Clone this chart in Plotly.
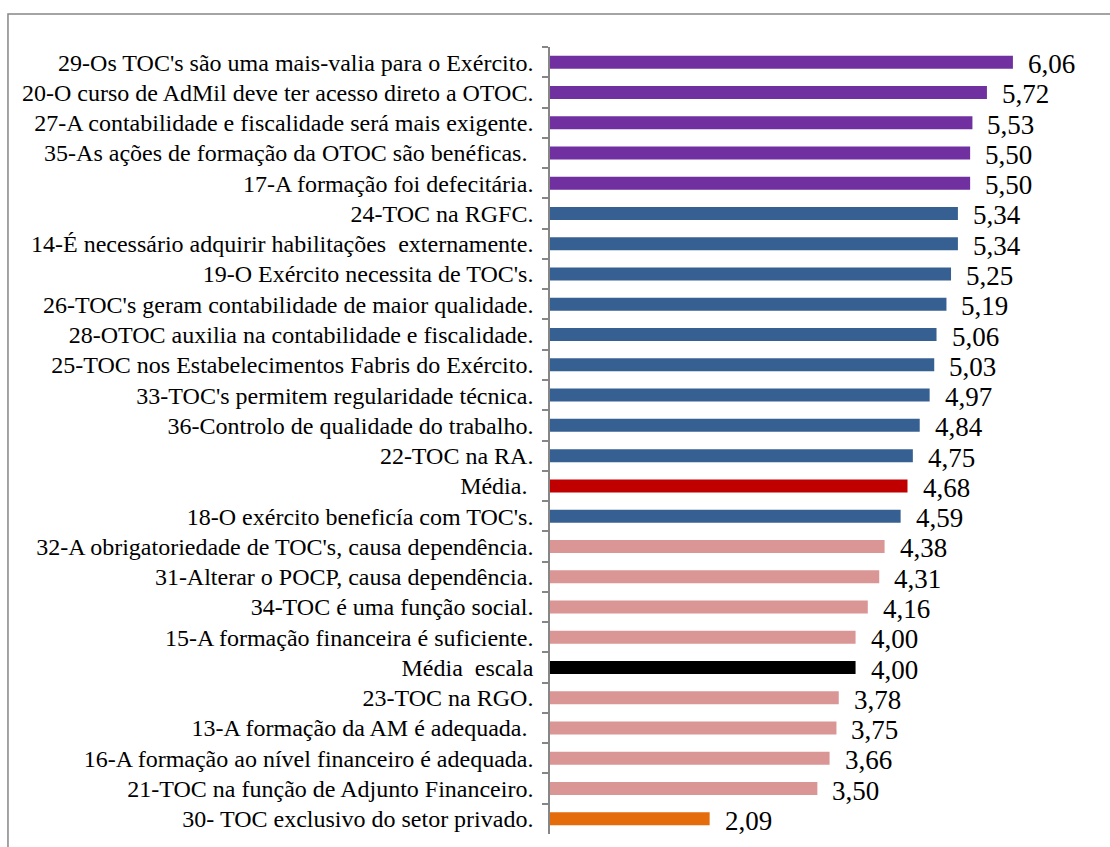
import plotly.graph_objects as go

# Itens do questionário (de cima para baixo) e respetivas médias
categorias = [
    "29-Os TOC's são uma mais-valia para o Exército.",
    "20-O curso de AdMil deve ter acesso direto a OTOC.",
    "27-A contabilidade e fiscalidade será mais exigente.",
    "35-As ações de formação da OTOC são benéficas.\u00a0",
    "17-A formação foi defecitária.",
    "24-TOC na RGFC.",
    "14-É necessário adquirir habilitações\u00a0 externamente.",
    "19-O Exército necessita de TOC's.",
    "26-TOC's geram contabilidade de maior qualidade.",
    "28-OTOC auxilia na contabilidade e fiscalidade.",
    "25-TOC nos Estabelecimentos Fabris do Exército.",
    "33-TOC's permitem regularidade técnica.",
    "36-Controlo de qualidade do trabalho.",
    "22-TOC na RA.",
    "Média.\u00a0",
    "18-O exército beneficía com TOC's.",
    "32-A obrigatoriedade de TOC's, causa dependência.",
    "31-Alterar o POCP, causa dependência.",
    "34-TOC é uma função social.",
    "15-A formação financeira é suficiente.",
    "Média\u00a0 escala",
    "23-TOC na RGO.",
    "13-A formação da AM é adequada.\u00a0",
    "16-A formação ao nível financeiro é adequada.",
    "21-TOC na função de Adjunto Financeiro.",
    "30- TOC exclusivo do setor privado.",
]

medias = [6.06, 5.72, 5.53, 5.50, 5.50, 5.34, 5.34, 5.25, 5.19, 5.06, 5.03,
          4.97, 4.84, 4.75, 4.68, 4.59, 4.38, 4.31, 4.16, 4.00, 4.00, 3.78,
          3.75, 3.66, 3.50, 2.09]

grupos = ["topo"] * 5 + ["acima"] * 9 + ["media"] + ["acima"] + ["abaixo"] * 4 \
    + ["escala"] + ["abaixo"] * 4 + ["minimo"]

cores_grupo = {
    "topo": "#7030A0",
    "acima": "#376092",
    "media": "#C00000",
    "abaixo": "#D99694",
    "escala": "#000000",
    "minimo": "#E46C0A",
}
cores = [cores_grupo[g] for g in grupos]

fonte = "Liberation Serif"

fig = go.Figure(
    go.Bar(
        x=medias,
        y=categorias,
        orientation="h",
        marker=dict(color=cores, line=dict(width=0)),
        hoverinfo="x+y",
    )
)

# Rótulos de valor com vírgula decimal
for cat, v in zip(categorias, medias):
    fig.add_annotation(
        x=v, y=cat,
        text=f"{v:.2f}".replace(".", ","),
        showarrow=False,
        xanchor="left",
        yanchor="middle",
        xshift=13,
        yshift=-2,
        font=dict(family=fonte, size=27, color="black"),
    )

# Moldura exterior da área do gráfico
fig.add_shape(
    type="rect", xref="paper", yref="paper",
    x0=-0.9855, x1=1.05, y0=-0.1, y1=1.042,
    line=dict(color="#868686", width=1.5),
    fillcolor="rgba(0,0,0,0)",
)

fig.update_layout(
    width=1110,
    height=847,
    margin=dict(l=550, r=10, t=47, b=13),
    font=dict(family=fonte, color="black"),
    paper_bgcolor="white",
    plot_bgcolor="white",
    bargap=0.57,
    showlegend=False,
    xaxis=dict(
        range=[0, 7.2],
        visible=False,
        showgrid=False,
        zeroline=False,
    ),
    yaxis=dict(
        type="category",
        range=[len(categorias) - 0.5, -0.5],
        showline=True,
        linecolor="#868686",
        linewidth=1.5,
        ticks="outside",
        tickson="boundaries",
        ticklen=6,
        tickcolor="#868686",
        tickwidth=1.5,
        ticklabelstandoff=10,
        showgrid=False,
        tickfont=dict(family=fonte, size=24, color="black"),
    ),
)

fig.write_html("out.html")
